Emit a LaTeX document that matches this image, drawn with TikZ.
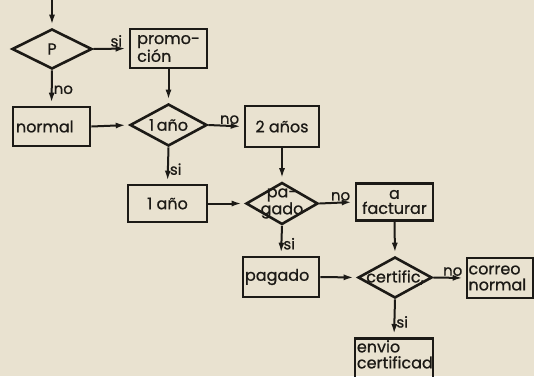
\documentclass[tikz,border=0pt]{standalone}
\usepackage{fontspec}
\setmainfont{Poppins}[FakeBold=0.8]
\usetikzlibrary{shapes.geometric,arrows.meta}
\definecolor{paper}{RGB}{233,226,208}
\definecolor{ink}{RGB}{28,26,22}
\tikzset{
  every node/.style={font=\fontsize{16}{17}\selectfont, text=ink},
  box/.style={draw=ink, line width=2.6pt, rectangle, inner sep=0pt, minimum width=#1},
  dia/.style={draw=ink, line width=2.6pt, diamond, inner sep=0pt, aspect=2},
  flow/.style={draw=ink, line width=2pt, -{Latex[length=10pt,width=6pt]}, shorten >=3pt},
  lbl/.style={font=\fontsize{15}{16}\selectfont, inner sep=1pt}
}
\begin{document}
\begin{tikzpicture}[x=1pt,y=-1pt]
\fill[paper] (0,0) rectangle (534,376);
\useasboundingbox (0,0) rectangle (534,376);
\coordinate (start) at (52,0);
\node[dia, minimum width=80pt, minimum height=40pt, label={[inner sep=0pt]center:P}] (P) at (52,49) {};
\node[box=77pt, minimum height=39pt, align=left, font=\fontsize{16}{15}\selectfont] (promo) at (168.5,48.5) {promo-\\ción};
\node[box=77pt, minimum height=39pt, align=left, text width=71pt] (normal) at (51.5,126.5) {normal};
\node[dia, minimum width=77pt, minimum height=42pt, label={[inner sep=0pt]center:1\,año}] (d1) at (168.5,125) {};
\node[box=74pt, minimum height=41pt] (dos) at (282,126.5) {2 años};
\node[box=79pt, minimum height=37pt] (uno) at (167.5,203.5) {1 año};
\node[dia, minimum width=72pt, minimum height=42pt, label={[inner sep=0pt, align=center, font=\fontsize{16}{13}\selectfont]center:pa-\\gado}] (d2) at (282,203.5) {};
\node[box=77pt, minimum height=37pt, align=center, font=\fontsize{16}{15}\selectfont] (fact) at (394.5,202) {a\\facturar};
\node[box=76pt, minimum height=40pt, align=left, text width=72pt] (pag) at (281,277) {pagado};
\node[dia, minimum width=74pt, minimum height=41pt, label={[inner sep=0pt]center:certific,}] (d3) at (395,277.5) {};
\node[box=66pt, minimum height=40pt, align=left, text width=63pt, font=\fontsize{16}{16}\selectfont] (correo) at (500,278) {correo\\normal};
\node[box=78pt, minimum height=46pt, anchor=north,
  label={[anchor=north west, inner sep=0pt, xshift=3pt, yshift=-3pt, align=left, font=\fontsize{16}{16}\selectfont]north west:envio\\certificad}] (envio) at (394,337) {};
\draw[flow] (start) -- (P.north);
\draw[flow] (P.east) -- node[lbl, above, pos=0.65]{si} (promo.west);
\draw[flow] (P.south) -- node[lbl, right, pos=0.55]{no} (normal.north);
\draw[flow] (promo.south) -- (d1.north);
\draw[flow] (normal.east) -- (d1.west);
\draw[flow] (d1.east) -- node[lbl, above, pos=0.6]{no} (dos.west);
\draw[flow] (d1.south) -- node[lbl, right, pos=0.6]{si} (uno.north);
\draw[flow] (dos.south) -- (d2.north);
\draw[flow] (uno.east) -- (d2.west);
\draw[flow] (d2.east) -- node[lbl, above, pos=0.6]{no} (fact.west);
\draw[flow] (d2.south) -- node[lbl, right, pos=0.6]{si} (pag.north);
\draw[flow] (fact.south) -- (d3.north);
\draw[flow] (pag.east) -- (d3.west);
\draw[flow] (d3.east) -- node[lbl, above, pos=0.6]{no} (correo.west);
\draw[flow] (d3.south) -- node[lbl, right, pos=0.6]{si} (envio.north);
\end{tikzpicture}
\end{document}
